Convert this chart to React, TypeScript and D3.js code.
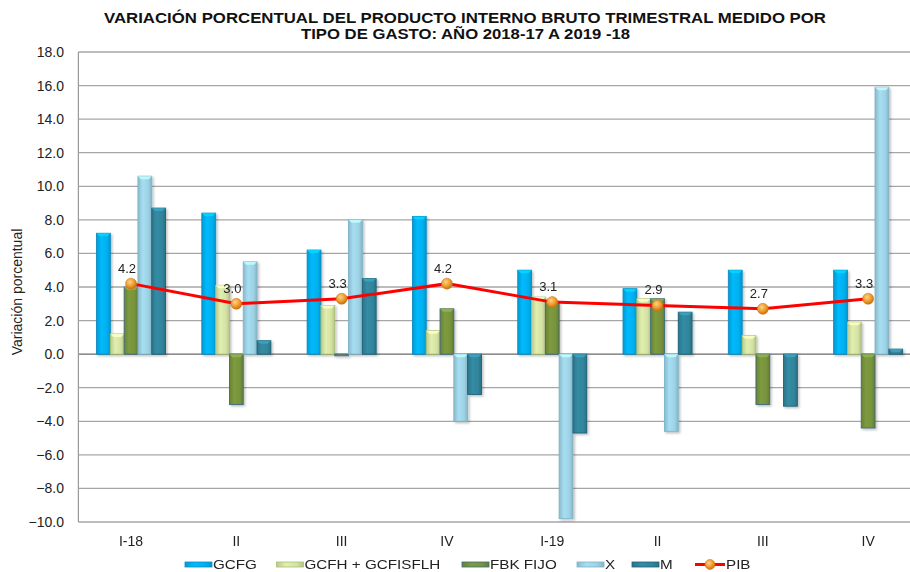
import { useEffect, useRef } from 'react';
import * as d3 from 'd3';

const quarters = ['I-18', 'II', 'III', 'IV', 'I-19', 'II', 'III', 'IV'];
const seriesNames = ['GCFG', 'GCFH + GCFISFLH', 'FBK FIJO', 'X', 'M'];
const gcfg = [7.2, 8.4, 6.2, 8.2, 5.0, 3.9, 5.0, 5.0];
const gcfh = [1.2, 4.1, 2.9, 1.4, 3.4, 3.3, 1.1, 1.9];
const fbk = [4.0, -3.0, -0.1, 2.7, 3.1, 3.3, -3.0, -4.4];
const exportsX = [10.6, 5.5, 8.0, -4.0, -9.8, -4.6, 0.0, 15.9];
const importsM = [8.7, 0.8, 4.5, -2.4, -4.7, 2.5, -3.1, 0.3];
const pib = [4.2, 3.0, 3.3, 4.2, 3.1, 2.9, 2.7, 3.3];
const yTicks = [18, 16, 14, 12, 10, 8, 6, 4, 2, 0, -2, -4, -6, -8, -10];

const seriesValues = [gcfg, gcfh, fbk, exportsX, importsM];
const fills = ['#00b0f0', '#d4e3a4', '#77933c', '#9dd2e5', '#31859c'];
const strokes = ['#0a8cc2', '#a8c070', '#3d6a80', '#7db4ca', '#1f6277'];

const W = 910;
const H = 572;
const FONT = '"Liberation Sans", Arial, sans-serif';
const NARROW = '"Liberation Sans Narrow", "Arial Narrow", "Liberation Sans", Arial, sans-serif';

export default function App() {
  const svgRef = useRef<SVGSVGElement>(null);

  useEffect(() => {
    if (!svgRef.current) return;
    const svg = d3.select(svgRef.current);
    svg.selectAll('*').remove();

    const left = 78.4;
    const right = 920.8;
    const top = 52;
    const bottom = 522;

    const x = d3.scaleBand<number>()
      .domain(d3.range(quarters.length))
      .range([left, right]);
    const inner = d3.scaleBand<number>()
      .domain(d3.range(seriesNames.length))
      .range([-34.5, 34.5]);
    const y = d3.scaleLinear().domain([-10, 18]).range([bottom, top]);
    const cx = (i: number) => (x(i) as number) + x.bandwidth() / 2;

    const defs = svg.append('defs');
    fills.forEach((c, k) => {
      const g = defs.append('linearGradient')
        .attr('id', `bar${k}`)
        .attr('x1', '0').attr('x2', '1').attr('y1', '0').attr('y2', '0');
      const base = d3.color(c)!;
      g.append('stop').attr('offset', '0%').attr('stop-color', base.darker(0.35).formatHex());
      g.append('stop').attr('offset', '35%').attr('stop-color', base.brighter(0.15).formatHex());
      g.append('stop').attr('offset', '75%').attr('stop-color', c);
      g.append('stop').attr('offset', '100%').attr('stop-color', base.darker(0.45).formatHex());
    });
    const mg = defs.append('radialGradient').attr('id', 'marker')
      .attr('cx', '40%').attr('cy', '35%').attr('r', '65%');
    mg.append('stop').attr('offset', '0%').attr('stop-color', '#fbd38a');
    mg.append('stop').attr('offset', '60%').attr('stop-color', '#ef9a2c');
    mg.append('stop').attr('offset', '100%').attr('stop-color', '#c8700f');
    const shadow = defs.append('filter').attr('id', 'shadow')
      .attr('x', '-20%').attr('y', '-20%').attr('width', '160%').attr('height', '160%');
    shadow.append('feDropShadow')
      .attr('dx', 1.5).attr('dy', 1.5).attr('stdDeviation', 1)
      .attr('flood-color', '#000').attr('flood-opacity', 0.25);

    svg.append('rect').attr('width', W).attr('height', H).attr('fill', '#fff');

    // Title
    const title = svg.append('g')
      .attr('font-family', FONT)
      .attr('font-weight', 'bold')
      .attr('font-size', 14)
      .attr('fill', '#111')
      .attr('text-anchor', 'middle');
    title.append('text').attr('x', 465).attr('y', 22.5)
      .attr('textLength', 722).attr('lengthAdjust', 'spacingAndGlyphs')
      .text('VARIACIÓN PORCENTUAL DEL PRODUCTO INTERNO BRUTO TRIMESTRAL MEDIDO POR');
    title.append('text').attr('x', 465.5).attr('y', 38.5)
      .attr('textLength', 329).attr('lengthAdjust', 'spacingAndGlyphs')
      .text('TIPO DE GASTO: AÑO 2018-17 A 2019 -18');

    // Gridlines
    svg.append('g')
      .selectAll('line')
      .data(yTicks)
      .join('line')
      .attr('x1', left).attr('x2', right)
      .attr('y1', (d) => y(d)).attr('y2', (d) => y(d))
      .attr('stroke', (d) => (d === 0 ? '#6a6a6a' : '#a6a6a6'))
      .attr('stroke-width', 1.3);
    svg.append('line')
      .attr('x1', left).attr('x2', left).attr('y1', top).attr('y2', bottom)
      .attr('stroke', '#9a9a9a').attr('stroke-width', 1.2);

    // Y tick labels
    svg.append('g')
      .attr('font-family', FONT)
      .attr('font-size', 14)
      .attr('fill', '#222')
      .attr('text-anchor', 'end')
      .selectAll('text')
      .data(yTicks)
      .join('text')
      .attr('x', 64)
      .attr('y', (d) => y(d) + 5)
      .text((d) => d3.format('.1f')(d));

    svg.append('text')
      .attr('transform', `translate(22,292) rotate(-90)`)
      .attr('text-anchor', 'middle')
      .attr('font-family', NARROW)
      .attr('font-size', 14)
      .attr('fill', '#222')
      .text('Variación porcentual');

    // Bars
    const bars = svg.append('g').attr('filter', 'url(#shadow)');
    seriesValues.forEach((vals, k) => {
      const bw = inner.bandwidth();
      const g = bars.append('g');
      vals.forEach((v, i) => {
        if (v === 0) return;
        const bx = cx(i) + (inner(k) as number);
        const y0 = Math.min(y(v), y(0));
        const h = Math.abs(y(v) - y(0));
        g.append('rect')
          .attr('x', bx).attr('y', y0)
          .attr('width', bw).attr('height', h)
          .attr('fill', `url(#bar${k})`)
          .attr('stroke', strokes[k])
          .attr('stroke-width', 0.9);
        if (h > 4) {
          const cap = 3;
          g.append('path')
            .attr('d', `M${bx},${y0} L${bx + bw},${y0} L${bx + bw - cap},${y0 + cap} L${bx + cap},${y0 + cap} Z`)
            .attr('fill', d3.color(fills[k])!.brighter(0.6).formatHex())
            .attr('opacity', 0.85);
        }
      });
    });

    // PIB line
    const line = d3.line<number>()
      .x((_, i) => cx(i))
      .y((d) => y(d));
    svg.append('path')
      .datum(pib)
      .attr('d', line)
      .attr('fill', 'none')
      .attr('stroke', '#ff0000')
      .attr('stroke-width', 3);
    svg.append('g')
      .selectAll('circle')
      .data(pib)
      .join('circle')
      .attr('cx', (_, i) => cx(i))
      .attr('cy', (d) => y(d))
      .attr('r', 5.5)
      .attr('fill', 'url(#marker)')
      .attr('stroke', '#d07a1a')
      .attr('stroke-width', 0.6);
    svg.append('g')
      .attr('font-family', FONT)
      .attr('font-size', 13)
      .attr('fill', '#222')
      .attr('text-anchor', 'middle')
      .selectAll('text')
      .data(pib)
      .join('text')
      .attr('x', (_, i) => cx(i) - 4)
      .attr('y', (d) => y(d) - 11)
      .text((d) => d3.format('.1f')(d));

    // Category labels
    svg.append('g')
      .attr('font-family', NARROW)
      .attr('font-size', 14)
      .attr('fill', '#222')
      .attr('text-anchor', 'middle')
      .selectAll('text')
      .data(quarters)
      .join('text')
      .attr('x', (_, i) => cx(i))
      .attr('y', 546)
      .text((d) => d);

    // Legend (text slightly stretched horizontally like the reference)
    const legendX = [185, 276.5, 462, 577, 632, 695];
    const legend = svg.append('g')
      .attr('font-family', FONT)
      .attr('font-size', 13)
      .attr('fill', '#222');
    const stretch = (t: d3.Selection<SVGTextElement, unknown, null, undefined>) => {
      const n = t.node()!;
      t.attr('textLength', n.getComputedTextLength() * 1.17)
        .attr('lengthAdjust', 'spacingAndGlyphs');
    };
    seriesNames.forEach((name, k) => {
      legend.append('rect')
        .attr('x', legendX[k]).attr('y', 562)
        .attr('width', 27).attr('height', 5)
        .attr('fill', `url(#bar${k})`)
        .attr('stroke', strokes[k]).attr('stroke-width', 0.8);
      legend.append('text')
        .attr('x', legendX[k] + 28).attr('y', 568.5)
        .text(name)
        .call(stretch as any);
    });
    const px = legendX[5];
    legend.append('line')
      .attr('x1', px).attr('x2', px + 30).attr('y1', 564.5).attr('y2', 564.5)
      .attr('stroke', '#ff0000').attr('stroke-width', 3);
    legend.append('circle')
      .attr('cx', px + 15).attr('cy', 564.5).attr('r', 5)
      .attr('fill', 'url(#marker)').attr('stroke', '#d07a1a').attr('stroke-width', 0.6);
    legend.append('text').attr('x', px + 31).attr('y', 568.5).text('PIB')
      .call(stretch as any);
  }, []);

  return (
    <div style={{ position: 'absolute', left: 0, top: 0 }}>
      <svg ref={svgRef} width={W} height={H} style={{ display: 'block' }} />
    </div>
  );
}
